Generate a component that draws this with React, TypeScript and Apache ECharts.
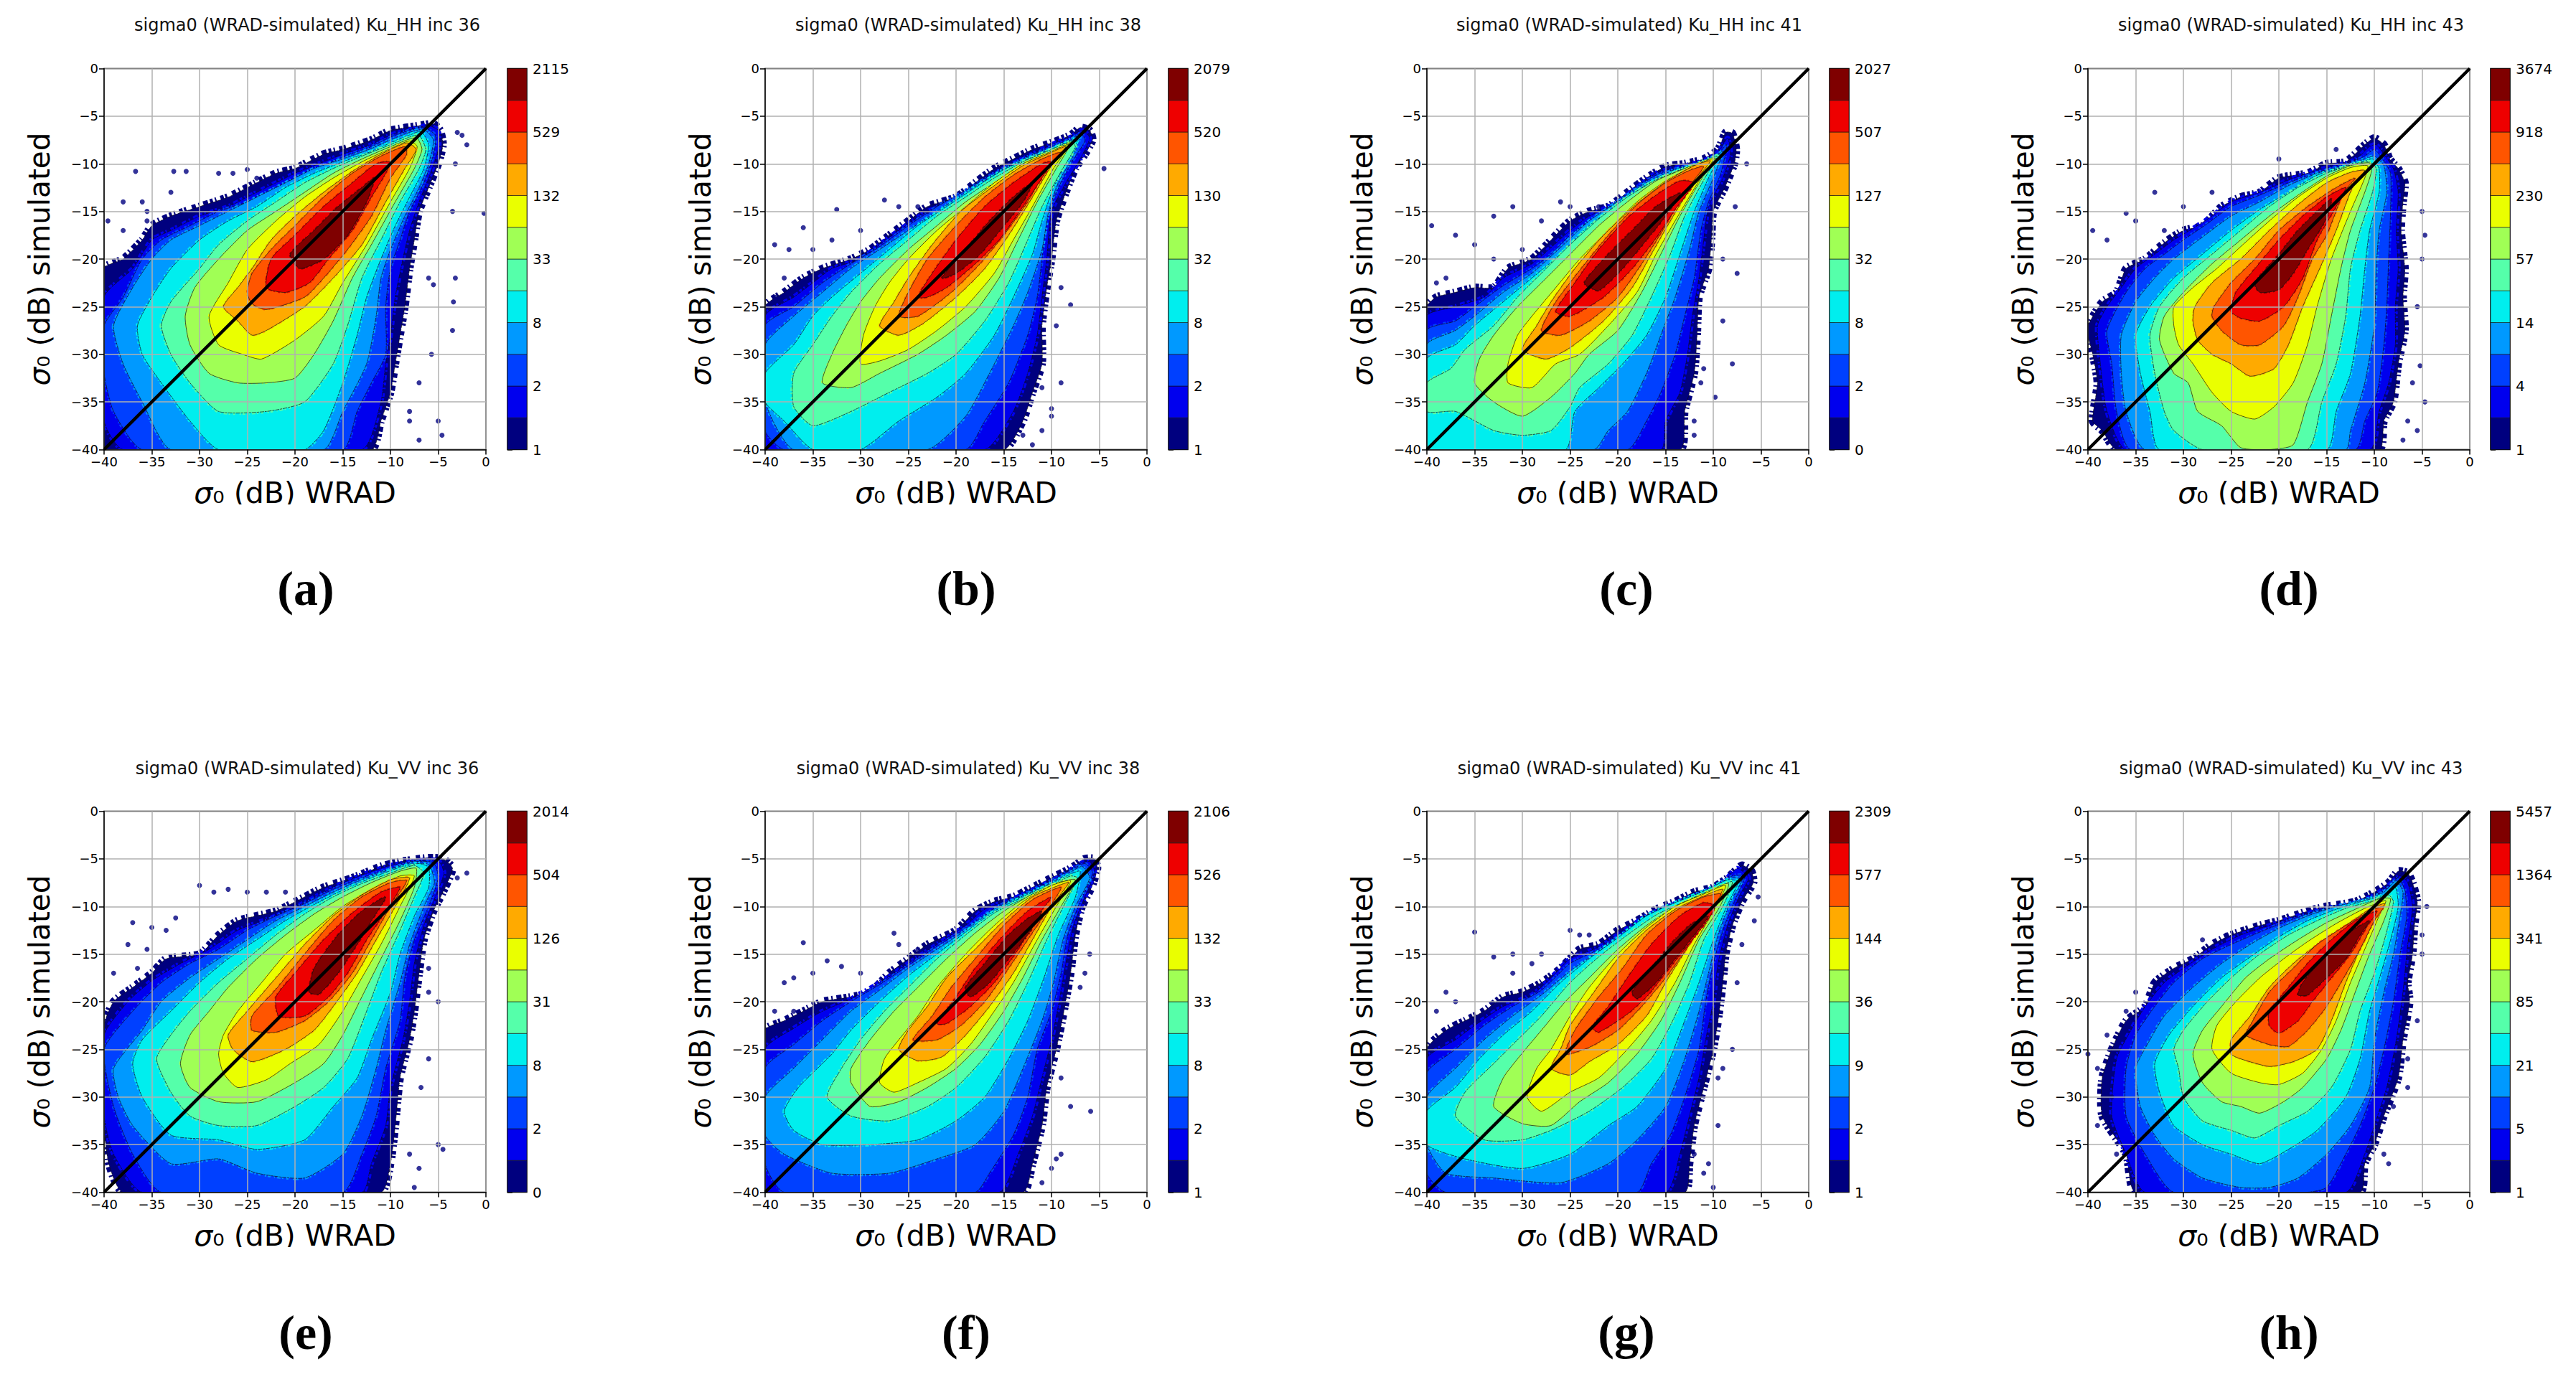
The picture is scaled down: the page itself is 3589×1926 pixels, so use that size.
import React, { useEffect, useRef } from "react";
import * as echarts from "echarts";

// Density contour outlines: each row is one band, [x,y, x,y, ...] in dB with the minus sign dropped.
const bandsA: number[][] = [
  [40,21,38,20,36,18,35,16.5,33,15.5,30,14.5,27,13.5,25,12.5,22,11,20,10.5,17,9,15,8.5,12,7.5,10,6.5,7,6,5.5,5.8,4.8,6.5,4.5,8,5,10,6,12.5,7,15,7.5,18,8,21,8.5,25,9,28,9.5,31,10,34,11,37,12,40,40,40],
  [40,24,37,21,35,18,33,17,30,15.5,27,14.5,25,13.5,22,12,20,11,17,9.8,15,9,12,8,10,7,7.5,6.3,6,6,5,6.5,5,8.5,5.8,11,7,14,8,17,8.7,20,9.5,24,10,28,10.5,31,11,35,13,40,38,40,40,37],
  [40,27,38,24,36,20,34,18,31,16.5,28,15,25,14,22,12.5,20,11.5,17,10.2,15,9.3,12,8.2,10,7.2,8,6.5,6.5,6.2,5.3,7,5.5,9,6.5,12,8,15,9,18,10,21,10.5,25,10.5,30,12,33,13.5,36,15,40,36,40,39,36,40,32],
  [39,27,37,23,35,20,33,18,30,16.5,27,15,24,13.5,21,12,18,10.5,15,9.5,12,8.4,10,7.5,8,6.7,6.5,6.4,5.5,7.5,6,10,7,12.5,8.5,15.5,10,19,11,22,11.5,26,12.5,31,15,36,17,40,33,40,36,35,38,31],
  [36.5,27,35,24,33,21,30,18,27,16,24,14.5,21,12.5,18,11,15,9.8,12,8.7,10,7.8,8,7,6.8,6.6,6,8,6.5,10.5,8,13.5,9.5,16.5,11,20,12.5,24,13.5,28,15,33,17,38,19,40,28,40,31,37,34,33,36,30],
  [34,27,33,24.5,30,21,28,18.5,25,16,22,14,19,12,16,10.5,13,9.2,10,8,8,7.2,7,7,6.3,8.5,7,10.5,9,14,11,18,13,22,14.5,27,16,31,19,35,23,36,28,36,31,33,33,30],
  [31.5,26,30.5,23,28,20,25,17,22,15,19,13,16,11,13,9.5,10,8.2,8,7.4,7.2,7.3,6.7,8.5,7.5,10.5,9.5,14,12,18.5,14,22,16,26.5,18,30,20,32.5,23,33,26,33,29,32,31,29],
  [29,26,27,22.5,25,19,22,16,19,13.5,16,11.5,13,9.8,10,8.4,8,7.6,7.2,8.2,8,10.5,10,14,12.5,18.5,15,22.5,17,26,20,28.5,23.5,30.5,25.5,30,28,29],
  [27.5,25,26,23,24.5,21,22.5,18,20,15.5,17,13,14,10.8,11,9,8.3,7.8,7.3,8.5,8.5,10.5,10.5,14,13,18.5,16,22,19,25,23,27.5,24.5,28,26,26.5],
  [25,23.5,24.5,21.5,22.5,19,20,16.5,17,13.5,14,11,11,9.2,8.5,8.2,8.3,9,10,11.5,12,15.5,14.5,19,17,22,19,24,23,25.3,24.5,24.7],
  [23,23,22.5,20,20,17.5,17,14.5,14,12,11.5,10,10,9.8,10.5,11,12,13.5,14,17,16.5,20,18.5,22.5,21,23.5],
  [20.5,19.5,18,17,15.5,14.5,13,12.5,11.7,11.5,12.5,14,14.5,17.5,17,20,19.5,21],
];
const bandsB: number[][] = [
  [40,25,38,23.5,36,22,34,21,31,20,29,19,27,17.5,25,16,23,14.5,20,13.5,18,12,16,10.5,14,9.5,12,8.5,10,7.8,8,7,7,6.2,6,6.5,5.7,7.5,6.5,9,7.5,10.5,8.5,13,9.5,16,10,20,10.5,23,11,27,11,31,12,34,13,37,15,40,40,40],
  [40,26,37,24,35,22.5,33,21,30,20,28,18.5,26,17,23,15,20,14,18,12.5,15,10.5,12,9,10,8,8,7.2,6.8,6.5,6,7.3,7,9.5,8.5,12,10,15,10.5,20,11,24,11.5,28,12.5,32,14,36,17,40,40,40],
  [40,27,37,25,34,22.5,31,20.5,28,18.7,25,16.5,22,14.5,19,12.8,16,11,13,9.5,10,8.2,8,7.4,6.9,6.8,6.5,7.6,8,10,9.5,13,10.5,16,11,20,11.5,24,12.5,28,14.5,33,17,37,19,40,38,40,40,38],
  [40,29,37,26,34,23.5,31,21,28,19,25,17,22,15,19,13,16,11.2,13,9.6,10,8.4,8,7.5,7,7,7.8,9.3,9.3,12,10.3,15,11,19,12.5,23.5,14,27,16.5,32,19,36.5,23,40,37,40,40,35],
  [40,32,37,29,35,26,33,24,30,21.5,27,19,24,16.5,21,14.5,18,12.5,15,10.6,12,9.3,10,8.5,8,7.6,7.2,7.3,8,9,9.8,12.5,11,16,12,19.5,14,24,16,28,19,32,22,34.5,26,37,30,40,35,40,38,37,40,35],
  [37,32,35,29,33,26,31,23.5,28,20.5,25,18,22,15.5,19,13.5,16,11.5,13,9.8,10,8.5,8,7.7,7.5,8.2,9,10.8,11,14.5,12.5,18,14.5,22.5,17,26.5,20,30,23,32,27,34,31,36,35,37.5,37,35.5],
  [34,33,33,30,31.5,27,30,24.5,28,22,25,19,22,16.5,19,14,16,12,13,10,10,8.7,8,7.8,9.5,10.5,11.5,14,13.5,18,15.5,22,18,25.5,21,28,24,30,28,32,31,33.5],
  [30,31,29.7,28,28.5,25,27,22.5,25,20,22,17,19,14.5,16,12,13,10,10,8.7,8.2,8,9.8,10.5,12,14.5,14,18,16,21.5,19,25,22,27.5,25,29.5,28,30.7],
  [28,27,26.5,24.5,25,22,22.5,18.5,19.5,15,16,12.3,13,10.2,10,8.8,8.5,8.2,10,10.2,12.3,14,14.5,17.5,17,21,20,24,23.5,26.8,26,28],
  [26,26,25,23.5,23,20,20,16.5,17,13.5,14,11.2,11,9.5,9,8.8,10.5,10.5,12.5,14,15,17.5,17.5,20.5,20.5,23.5,24,26],
  [24,24,22.5,21.5,20,18,17,14.5,14,12,11,10,10,9.8,11,11.5,13,14.5,15.5,18,18,20.5,21,23,23,24],
  [21.5,22,19,19,16.5,16,14,13.5,12,12,13,14,15,16.5,17.5,19.5,20,21.5],
];
const bandsC: number[][] = [
  [40,25,39,24,37,23.5,35,23,33,23,31.5,21,29,20,27,18,25,16,23,15,21,14.5,19,13,17,11.5,15,10.3,13,10,11,9.5,9.5,8.5,8.7,6.7,8,6.8,7.6,8.5,7.8,10,8.8,12.5,10,15,10.2,18,10.5,21,11.5,24,11.7,28,12,32,13,36,13.5,40,40,40],
  [40,26,37,25,34,24,32,22,29,20.5,27,18.8,25,17,23,15.5,20,14,18,12.5,16,11,13,10.2,11,9.7,9.5,8.8,8.5,7.3,8.2,9,9,11.5,10.5,14.5,11,18,11.5,22,12.2,26,12.7,30,13.5,34,15,37,15.5,40,40,40],
  [40,27.5,37,26.5,35,25,32,22.8,29,21,27,19.5,25,17.5,22,15.3,19,13.2,16,11.2,13,10.3,11,9.8,9.5,9,8.6,8,9.2,11,10.5,14,11.3,17,12,22,13,26,14,30,15.5,34,17,37,19,40,40,40],
  [40,29,37,27.5,35,26,32,23.5,29,21.5,26,18.8,23,16,20,14,17,12,14,10.6,11.5,10,9.8,9.2,9,8.7,10,11.5,11.5,15,12.5,19,14,24,15.5,28,17,32,19,36,21,38,22.5,40,40,40],
  [40,30.5,37,29,35,27,32,24.5,29,22,26,19.5,23,16.5,20,14.3,17,12.2,14,10.8,11.5,10.1,10,9.4,9.3,9,10.5,11.5,12,15,13.5,19.5,15,24,17,28,19.5,31,22,33.5,24.5,36,25.5,40,40,40],
  [40,33,37.5,31.5,36,29.5,33,27,30.5,24,28,21.5,25,18.5,22,15.8,19,13.5,16,11.7,13,10.5,10.5,9.5,9.6,9.2,11,11.7,13,15.5,14.5,19.5,16.5,24,18.5,28,21,31,24,33.5,25,35.5,27,38,30,38.5,33,38,37,36,40,36],
  [35,33,34.5,30.5,33,28,30.5,25,28,22.5,25,19.5,22,16.5,19,14,16,11.8,13,10.5,10.5,9.6,9.8,9.4,11.3,11.7,13.5,15.5,15.5,19.5,17.5,23.5,20,27.5,23,30,24.5,32,27,34.5,30,36.5,33,35],
  [31.5,33,31.5,31,30.5,28,29,26,26.5,23,24,20,21,17,18,14,15,11.8,12,10.2,10,9.5,11.5,11.8,14,16,16,19.5,18,23.5,21,27,24,30,26.5,31,29,33.5],
  [30,29.5,28.5,27,27,24.5,24.5,21,21.5,17.5,18,14.2,15,11.9,12,10.2,10.3,9.7,12,11.9,14.5,16,16.5,19.5,18.5,23,21.5,26.5,25,29.3,27.5,30.5],
  [28,27.5,26.5,24.5,24,21.2,21,17.5,18,14.3,15,12,12.5,10.7,11,10.3,13,13,15,16.5,17.5,20.5,20,24,23,26.5,26,28],
  [26.5,25.5,24.5,22.5,22,19,19,15.7,16,13.3,13.5,11.8,12,12,14,14.8,16,17.8,18.5,21,21.5,24,25,26],
  [23.5,22.5,21,19.5,18.5,17,16,14.5,13.5,13.1,15,15.5,17,18,19.5,21,22,23.3],
];
const bandsD: number[][] = [
  [40,27,38.5,24.5,37,23.5,36,21,34,20,32,18.3,30,17,28,16.5,26,14.5,24,13.5,22,13,20,11.5,17,11,15,10,13,9.8,11,8,10,7.3,9,8,8.4,9.5,7.5,10.5,6.8,12,7,14,7.2,17,6.8,21,7,24,6.8,27.5,7.5,31,8,35,9,37,9.5,40,37,40,38.5,38,39.5,37,39,33,39.5,30,40,28],
  [39,27,38,25,36.5,23,35,21,33,19.5,31,18,29,16.8,27,15.5,25,14,22,13,19,11.7,16,10.7,14,10.2,12,9.6,10.5,8.2,9.8,8,9,9,8,10.5,7.5,13,7.7,17,7.5,21,7.8,25,7.8,29,8.5,33,9.5,36,10.5,40,36,40,38,36,38.7,31],
  [38,27.5,36,23.5,34,21,32,19.5,30,18,27.5,16.3,25,14.5,22,13.3,19,12,16,10.9,13,10.1,11,9.2,10,8.5,9,9.7,8.3,11,8.3,15,8.5,20,8.7,25,9,29,9.7,34,11,37,12,40,35.5,40,37,36,37.5,31],
  [36.5,28,35,24.5,33,22,31,20,28,17.7,25,15.5,22,14,19,12.3,16,11,13,10.2,11,9.5,10,9.2,9,10.2,8.7,13,9.5,17,9.8,21,10,27,11,33,12.5,38,13,40,34,40,36,36,36.5,32],
  [35,28,33.5,25,31,22,28,19.5,25,17,22,14.8,19,13,16,11.2,13,10.3,11,9.7,10.2,9.5,9.5,10.5,9.5,13,10.5,17,11,21,11.5,26,12.5,32,14,36,15,40,32.5,40,33.5,36,34.5,32],
  [33.5,28,32.5,25,30,22,27,19.5,24,17,21,14.5,18,12.5,15,11,12,10,10.5,9.8,9.8,10.5,10.2,13,11.5,17,12.5,21,13,26,14,31,15.5,35,17,40,28,40,31,38,32,36,33,32],
  [32.5,28.5,32,26,30,23.5,27,20.5,24,18,21,15.5,18,13.3,15,11.3,12.5,10.2,10.5,9.9,10.3,10.8,11,13,12.5,17,13.5,21,14.5,26,15.5,31,17,35,18.5,39.5,21,40,24,39.8,26,37.5,28.5,36,29.5,33,31,32],
  [31,27,31,25,29,23,26.5,21,24,18.7,21,16,18,13.5,15,11.5,12.5,10.4,10.7,10.2,11,11.5,12.5,15,14.5,20,16,25,17,29,18.5,33,20.5,35.5,22.5,36.8,25,36,27,34,29,31,30.5,29],
  [29,26.5,28.8,25,27,22.5,24,20,21,17,18,14.3,15,12,12.5,10.9,11,10.7,12.3,12.5,14,17,15.5,20.5,17.5,25,19,29,20.5,31.5,23,32.3,25,31,27,30,28.5,28.5],
  [27,26,26.8,25,25,22.5,22.5,20,20,17,17,14.5,14,12.5,12,11.5,13.2,13,15,17.5,16.5,20,18,24,19.5,27,22,29,24,29,26,27.5],
  [25,25.5,24.5,23.5,22.5,21,20,18,17.5,15.5,15,13.5,13,12.5,14,14.5,16,18,17.5,22,19.5,25,22,26.5,24,26.2],
  [22.5,22.5,20,19.5,18,17,16,15,14.5,13.7,15,15.7,17,19,18.5,21.5,20,23.2,22,23.5],
];
const bandsE: number[][] = [
  [40,22.5,39,20,37,18.5,35,17,33.5,15.5,30,15,28,13,26,11.5,22,10.5,19,9,17,8,14,7,11,5.8,9,5.3,6,4.9,4.5,5,3.5,6,4.5,8.5,5.5,10.5,6.5,13.5,7,17,7.5,21,8,24,9,28,9.5,33,10,37,11,40,38,40,39.5,37,40,33],
  [40,23.5,37.5,20,35,17.8,32,16,29,14.5,26,12.5,22,11,19,9.6,16,8,13,6.7,10,5.7,7,5.2,5,5.2,4.4,6.5,5.3,9,6.5,12,7.5,16,8,20,8.7,24,10,29,10.5,33,12,37,13,40,36,40,39,36,40,32],
  [40,25,37,21,34,18,31,16,28,14.5,25,12.5,22,11,19,9.7,16,8.2,13,7,10,6,7.5,5.3,5.5,5.4,5,7,6,10,7.5,13.5,8.5,17.5,9,22,10.5,27,11.5,32,13,36,15,40,34,40,37,36,39,31],
  [39,27,36,23,34,20,31,17.5,28,15.5,25,13.5,22,11.5,19,10,16,8.5,13,7.2,10,6.1,8,5.5,6,5.6,5.4,7.5,6.5,10,8,14,9,18,10.5,23,11.5,27,13,32,15,36,19,38.5,24,38,28,36.5,33,37,37,33,38.5,30],
  [37,26.5,36,24,33,21,30,18,27,15.5,24,13.5,21,11.5,18,9.8,15,8.3,12,7,9,5.9,7,5.5,6,5.9,6,8,7.5,11,9,15,10,19,12,24,13.5,28,16,31,19,34.5,24,35.5,28,34.5,33,34,36,30],
  [34.5,26,33,23.5,31,21,28,18,25,15.5,22,13,19,10.8,16,9,13,7.6,10,6.5,7.5,5.7,6.5,6.5,7.5,9,9,12.5,11,17,12.5,21,14.5,26,17,29,20,31,24,33,28,33,31,32,33,29.5],
  [32,26.5,31,23.5,29,21,27,18.5,24,15.5,21,13,18,10.8,15,9,12,7.5,9,6.3,7.3,6,7.5,8,9,11.5,11,15.5,13,19.5,15,23.5,17,26.5,20,28.5,24,30.5,28,30.5,31,29],
  [28,25.5,27.5,23.5,26,21,23.5,18,21,15,18,12.5,15,10,12,8.2,9,6.8,7.5,6.8,9,10,11,14,13,17.5,15,21,17.5,24.5,20.5,26.5,23,28.2,26,29,27.5,27.5],
  [27,23.5,25,21,22,17.5,19,14,16,11,13,8.8,10,7.2,8,7,9.5,10,11.5,13.5,13.5,17,16,20.5,18,23,21,25,24.5,26.3,26.5,25],
  [24.5,23,24.5,21.5,22,18.7,19,15,16,11.5,13,9,10,7.5,8.3,7.3,10,10,12,13.5,14,17,16.5,20,19,22,22,23.2],
  [21.7,21.5,22,19.5,20,17,17,13.5,14,10.7,11,8.5,9,8,10.5,10.5,12.5,13.5,14.5,17,16.5,19.5,19,21.5],
  [18.5,19,18,16.5,15.5,13,13,10.5,10.5,9,12,11.5,13.5,14,15.5,17,17.5,19.2],
];
const bandsF: number[][] = [
  [40,23,38,22,36,21,34,20,31,19.5,29,19,27,17,25,15.5,23,14,20,12.5,18,10.5,16,9.5,14,9,12,8,10,7,8,6,6.5,5,5.5,5,5.2,6,5.8,8,6.8,10,7.5,13,8,17,8.7,21,9.5,25,10.5,29,11,33,12,37,13,40,40,40],
  [40,25,37,22.8,34,21,31,19.7,28,18,25,16,22,14,19,12,17,10.3,14,9.2,11,7.8,9,6.8,7,5.5,6,5.3,5.5,6.3,6.5,9,7.7,12,8.5,16,9.2,20,10,24,11,28,12,32,13.5,36,15.5,40,40,40],
  [40,27,37,24.5,34,22,31,20,28,18.2,25,16.2,22,14.2,19,12.3,16,10.2,13,8.8,10,7.3,8,6.2,6.5,5.5,5.7,6.5,7,9.5,8.3,13,9,17,10,21,11.5,25,12.5,30,14,34,16.5,38,18,40,38,40,40,37],
  [40,30,37,27,34,24,31,21,28,18.8,25,16.5,22,14.5,19,12.5,16,10.3,13,8.9,10,7.5,8,6.4,6.8,5.8,6,7,7.5,10,8.8,13.5,9.8,18,11,22,13,27,15,31.5,18,35,22,36.5,27,38,33,38,38,36,40,34],
  [38,31.5,36.5,29,33,25.5,31,23,28,20,25,17.3,22,15,19,12.7,16,10.5,13,9,10,7.6,8,6.6,7,6.3,7.5,9,9.3,13,10.8,17.5,12.5,22,14.5,26,17,30,20,32.5,24,34.5,29,35,34,35,37,33.5],
  [33.5,30,32,27,30,24,27.5,21,25,18.5,22,15.5,19,13,16,10.7,13,9.2,10,7.8,8,6.8,7.3,7,8.5,9.5,10.5,13.5,12.5,18,14.5,22,17,25.8,20,29,23,31,27,32.5,31,32],
  [31,28.5,31,27,29,24,26.5,21,24,18.5,21,15.5,18,12.8,15,10.5,12,8.7,9,7.4,7.5,7.2,9,10,11,13.5,13,17.5,15,21,17.5,24.5,20,27,23,29,26,30.5,29,31],
  [28,28.5,27.5,26,26,24,24,21.5,22,18.5,19,15,16,12,13,9.5,10,7.8,8,7.3,9.5,10,11.5,13.5,14,18,16,21,18.5,24.5,21,27,24,28.5,26.5,29.5],
  [26,25,25,23,23,20.5,21,17.5,18,14.5,15,11.5,12,9,9.5,7.9,8.2,7.5,10,10,12,13.5,14,17,16.5,20.5,19,23.5,21.5,25.8,24,26.2],
  [24.5,24,22.5,21.5,20.5,18.5,18,15.5,15,12,12,9.3,9,8,10.5,10.5,12.5,13.5,14.5,16.5,17,20,19.5,22.5,22,24],
  [22,22.3,20,19.5,18,16.5,15,13,12.5,10.5,10,9,11.5,11,13.5,14.5,16,18,18.5,20.5,21,22.3],
  [19,18.5,17,16,14.5,13,12.5,11.3,11,10.5,12.5,13,14.5,15.5,16.5,18,18.5,19.5],
];
const bandsG: number[][] = [
  [40,25,38,23,36,22,34,21,32,19.5,30,19,28,18,26,16.5,24,14.5,22,14,20,12.5,18,11.5,16,10.3,14,9.5,12,8.5,10,8,8.5,7,7,5.7,6,6.3,5.8,7.5,7,9.5,8,12,8.7,15,9,18,9.5,22,10,25,11,29,12,33,12.5,37,13,40,40,40],
  [40,26,37,24,35,22.5,32,20.5,29,19.3,27,17.5,25,15.5,22,14.3,20,13,17,11,14,9.7,11,8.5,9,7.5,7.5,6,6.3,7,7.3,9,8.5,12,9.5,16,10,20,10.8,24,11.5,28,12.5,32,13.5,36,15,40,40,40],
  [40,27.5,37,25,34,22.5,31,20.5,28,18.8,25,16,22,14.5,19,12.5,16,10.5,13,9.2,10,8,8,6.8,6.7,6.8,7.8,9.5,9,12.5,10,16,10.8,20,11.5,25,13,30,14.5,34,16.5,37,18,40,38,40,40,38],
  [40,30,37,27,34,24,31,21.5,28,19.3,25,16.8,22,14.7,19,12.7,16,10.7,13,9.3,10,8.1,8,7,7,7.2,8.2,9.5,9.5,13,10.5,17,11.5,21,13,26,15,31,18,34.5,21,37,26,39,33,38.5,38,38,40,35],
  [40,31.5,37,29,34.5,26,32,23.5,29,21,26,18,23,15.5,20,13.3,17,11,14,9.6,11,8.4,8.5,7.2,7.4,7.4,8.6,10,10,13.5,11.5,18,13,22,15,27,18,31,21,33,25,36,30,37.5,36,36.5,40,35],
  [37,32,36,29.5,33,26.5,30.5,24,28,21.5,25,18,22,15.3,19,13,16,10.9,13,9.5,10,8.2,8,7.4,9,10,11,13.5,12.5,18,14.5,22.5,16.5,26,19.5,29,23,31.5,27,33.5,30,34.5,34,34.5],
  [33,31,32,28,30.5,26,28,23,25.5,20,23,17.5,20,14.5,17,12,14,10,11,8.6,8.4,7.6,9.3,10,11.5,13.5,13.5,18,15.5,22,18,25.5,21,28.5,24,30.5,27,33,30,32.8],
  [29.5,30,28.5,27,27,25,25,21.5,23,18.5,20,15,17,12.2,14,10,11,8.7,8.7,7.8,10,10.5,12,14,14,18,16.5,22,19,25,22,28,25,29.5,28,31.5],
  [27,27,26,25,25,22.5,22.5,19,20,15.5,17,12.5,14,10.3,11,8.9,9,8.2,10.5,10.5,12.5,14,15,18,17,21.5,20,24.5,23,26.3,25,27.7],
  [25.5,25.5,24.5,23,22,19.5,19.5,16.5,17,13,14,10.5,11,9,9.2,8.7,10.5,10.7,12.5,14,15,17.5,17.5,20.5,20,23,23,24.8],
  [22.7,22.7,21,20.5,19,17.5,16.5,14,13.5,11,11,9.6,9.8,10,11,12,13,14.5,15,17,17,19.5,19,21.3,22,23.2],
  [18.5,19,16.5,16.5,14.5,14,12.5,12,10.5,11,12,13,14,15.5,16,18,18,19.7],
];
const bandsH: number[][] = [
  [37.5,25,36,22,34,20.5,33,18,31,16.5,29,15.5,27,14,25,13,22,12,20,11.5,17,10.5,15,10,12,9.5,10,8.5,8.5,7.5,7.5,6.3,6.5,6.5,6,7.5,5.5,9.5,5.8,12,6,15,6.5,18,6.3,20,7,24,7.5,28,9,32,10,35,11,37,11.5,40,35,40,36,36,38.5,32,38.5,28],
  [37,26,35.5,23,34,20.5,32,18,30,16.5,27,14.5,24,13,21,12,18,11,15,10.2,12,9.7,10,8.8,8.5,7.8,7.3,6.8,6.5,7.5,6,10,6.5,14,7,19,7.7,24,8.7,29,10,33,11,36,13,40,34,40,36,36,37.5,32],
  [36,27,35,23.5,33,20.5,31,18,28,15.5,25,14,22,12.7,19,11.5,16,10.5,13,9.8,10.5,9.2,8.5,8,7.5,7,6.8,8.3,6.6,11,7.3,15,8,20,9,25,10,29,11.5,33,13,36,15,39.5,17,40,31,40,34,36,36,32],
  [35,27,33.5,24,32,21.5,29,18.5,26,16,23,14,20,12.3,17,11,14,10,11,9.3,9,8.5,7.7,7.3,7,8.5,7.3,11,8,15,9,19,10,24,10.5,29,12.5,33,15,36,18,38.5,21,39.5,24,39.5,28,38.5,31,36.5,33,34,34.5,31],
  [33,26.5,31.5,23.5,29,20.5,26,17.5,23,15.3,20,13.2,17,11.5,14,10.3,11,9.4,9,8.8,7.8,8,7.5,10,8.3,13.5,9.3,17,10.5,21,11.5,26,13,30,16,33.5,19,35.5,22,37,25,36,28,35,31,33,32.5,29.5],
  [31,25,30,23,27.5,20,25,17.5,22,15,19,13,16,11.5,13,10.2,10.5,9.5,8.5,8.8,8,9.5,8.8,13,10,17,11.5,21,12.5,25,14.5,29,17,31.5,20,33,22.5,34.3,25,33.5,28,32.5,30,30,30.5,27],
  [29,25.5,28,23,26,20.5,23.5,17.5,21,15.5,18,13.5,15,11.7,12,10.3,9.5,9.2,8.3,9.2,9,11.5,10.5,15,12,19,13.5,23,15,26,17.5,29,19.5,30.5,22,31.7,24,31,26,30.5,28,28.5],
  [27,25,26.5,22.5,24.5,20,22,17.5,19.5,15.5,17,13.7,14,11.8,11,10.2,8.8,9.4,9.5,11,11,14.5,12.5,18,14,22,15.5,25,17.5,27.5,20,28.7,22,28.5,25,27.5],
  [25,25.5,25,24,23,21.5,21,18.5,18.5,16,16,14,13,12,10.5,10.3,8.9,9.7,10,11.5,11.5,14.5,13,18,14.5,22,16,25,18.5,26.3,21,26.8,24,26],
  [23.5,23.5,23,22.5,21,19,18.5,16.5,16,14,13,12,10.5,10.5,9,10,10,11.5,11.5,14.5,13.5,18,15,20.5,17,23,19,24.7,21,24.5],
  [21,22.5,21,21,19,18.5,17,16,14.5,13.5,12,11.5,9.7,10.5,10.7,12,12.5,15,14.5,17.5,16.5,20,18,22,20,23.3],
  [18,19.3,17.5,18,15,15,13,13,10.5,11.5,11.5,13,13,15.5,15,17.5,17,19.3],
];

// Isolated low-count cells outside the main cloud, [x,y] with the minus sign dropped.
const specksA: number[][] = [[36.7,10.8],[32.7,10.8],[31.4,10.8],[38,14],[36,14],[35.5,15],[38,17],[39.6,16],[35.5,16],[33,13],[28,11],[26.5,11],[25,10.6],[24,11.5],[3,6.7],[2.5,7],[2,8],[3.2,10],[3.5,15],[3.2,22],[3.4,24.5],[5.5,22.7],[0.2,15.2],[3.5,27.5],[5.7,30],[6,22],[7,33],[8,36],[5,37],[4.6,38.5],[8,37],[7,39]];
const specksB: number[][] = [[39,18.5],[37.5,19],[36,16.7],[32.5,14.8],[27.5,13.8],[26,14.5],[24,14.5],[23,15],[35,19],[33,18],[30,17],[4.5,10.5],[9,23],[8,24.8],[9,33],[10,35.7],[10,36.5],[11,38],[12,39.5],[9.5,27],[11,33.5],[13,38.5],[39,24],[38,22]];
const specksC: number[][] = [[39.5,16.5],[37,17.5],[35,18.5],[33,15.5],[31,14.5],[28,16],[26,14],[25,14.5],[22,14.5],[33,20],[30,19],[7.5,21.5],[8,31],[9.8,34.5],[11,31.5],[11.3,33],[12,37],[12,38.5],[6.5,10],[9,26.5],[7.7,14.5],[9,20],[39,22.5],[38,22]];
const specksD: number[][] = [[33,13],[30,14.5],[32,17],[36,15.2],[39.5,17],[38,18],[35,16],[20,9.5],[14,8.5],[27,13],[5,15],[4.7,17.5],[5,20],[5.5,25],[5.2,31.2],[6,33],[4.7,35],[5.5,38],[6.5,37],[7,39]];
const specksE: number[][] = [[30,7.8],[28.5,8.5],[27,8.2],[25,8.5],[23,8.5],[21,8.5],[37,11.7],[35,12.2],[32.5,11.2],[33.5,12.5],[37.5,14],[35.5,14.5],[39,17],[36.5,16.5],[2,6.5],[3,7],[6,16.5],[6,19],[5,20],[6,26],[6.8,29],[5,35],[4.5,35.5],[8,36],[7,37.5],[7.5,39.5]];
const specksF: number[][] = [[36,13.8],[33.5,15.7],[32,16.3],[26.5,12.8],[26,14],[24,14.5],[38,18],[37,17.5],[35,17],[30,17],[39,21],[37,21],[6,15],[6.5,17],[7,18.5],[8,31],[5.9,31.5],[9,28],[9,36],[10,37.5],[9.5,36.5],[13,39],[11,39],[11.5,33]];
const specksG: number[][] = [[35,12.7],[33,15.3],[31,15],[25,12.5],[24,13],[23,13],[28,15],[29,16],[31,17],[38,19],[39,21],[37,20],[5.3,9],[5.7,11.5],[7.5,18],[7,14],[8,25],[9,27],[9.5,33],[10.5,37],[11,38],[10,39.5],[9.5,28],[12,36]];
const specksH: number[][] = [[40,25.5],[39,27],[37.5,30],[38,23.5],[36,21],[35,19],[33,18],[28,13.5],[25.5,13],[4.5,10],[5,15],[5,13],[5.5,22],[6.5,26],[6.5,29],[8,31],[9,36],[8.5,37],[39,33],[37,36]];

const seriesTitles = [
  "sigma0 (WRAD-simulated) Ku_HH inc 36", "sigma0 (WRAD-simulated) Ku_HH inc 38",
  "sigma0 (WRAD-simulated) Ku_HH inc 41", "sigma0 (WRAD-simulated) Ku_HH inc 43",
  "sigma0 (WRAD-simulated) Ku_VV inc 36", "sigma0 (WRAD-simulated) Ku_VV inc 38",
  "sigma0 (WRAD-simulated) Ku_VV inc 41", "sigma0 (WRAD-simulated) Ku_VV inc 43",
];
const panelTags = ["(a)", "(b)", "(c)", "(d)", "(e)", "(f)", "(g)", "(h)"];
const colorbarTicks: string[][] = [
  ["1", "2", "8", "33", "132", "529", "2115"],
  ["1", "2", "8", "32", "130", "520", "2079"],
  ["0", "2", "8", "32", "127", "507", "2027"],
  ["1", "4", "14", "57", "230", "918", "3674"],
  ["0", "2", "8", "31", "126", "504", "2014"],
  ["1", "2", "8", "33", "132", "526", "2106"],
  ["1", "2", "9", "36", "144", "577", "2309"],
  ["1", "5", "21", "85", "341", "1364", "5457"],
];
const allBands = [bandsA, bandsB, bandsC, bandsD, bandsE, bandsF, bandsG, bandsH];
const allSpecks = [specksA, specksB, specksC, specksD, specksE, specksF, specksG, specksH];
const bandColors = ["#00007f", "#0000ee", "#0040ff", "#0099ff", "#00eeee", "#55ffaa", "#a0ff55", "#eaff00", "#ffaa00", "#ff5500", "#ee0000", "#7f0000"];

const plotLefts = [145, 1066, 1988, 2909, 145, 1066, 1988, 2909];
const plotTops = [95.5, 95.5, 95.5, 95.5, 1130.5, 1130.5, 1130.5, 1130.5];
const barLefts = [707, 1628, 2549, 3470];
const titleCenters = [423, 1344, 2265, 3187];
const tagCenters = [426, 1346, 2266, 3189];
const PLOT_W = 532;
const PLOT_H = 531;
const FONT = '"DejaVu Sans"';
const fmt = (v: number) => String(v).replace("-", "\u2212");
const ROUGH_OUTER = [4, 3, 2, 6, 5, 2, 3, 8, 6, 4, 2, 5, 7, 3];
const ROUGH_INNER = [3, 4, 2, 2, 5, 3, 1, 5, 4, 2, 2, 6];

function buildOption() {
  const grid: any[] = [], xAxis: any[] = [], yAxis: any[] = [], series: any[] = [], title: any[] = [], graphic: any[] = [];
  const nameRich = (size: number) => ({
    i: { fontFamily: FONT, fontStyle: "italic", fontSize: size, color: "#000" },
    r: { fontFamily: FONT, fontSize: size, color: "#000" },
  });
  for (let p = 0; p < 8; p++) {
    const col = p % 4;
    const left = plotLefts[p], top = plotTops[p];
    const barLeft = barLefts[col];
    const g = 2 * p;
    grid.push({ left, top, width: PLOT_W, height: PLOT_H, show: true, borderColor: "#000", borderWidth: 1.5, backgroundColor: "#fff" });
    grid.push({ left: barLeft, top, width: 27, height: PLOT_H, show: true, borderColor: "#000", borderWidth: 1.5 });
    const axisCommon = {
      min: -40, max: 0, interval: 5, type: "value", z: 3,
      axisLine: { show: true, onZero: false, lineStyle: { color: "#000", width: 1.5 } },
      axisTick: { show: true, length: 7, lineStyle: { color: "#000", width: 1.5 } },
      splitLine: { show: true, lineStyle: { color: "#b0b0b0", width: 1.5 } },
      axisLabel: { fontFamily: FONT, fontSize: 18, color: "#000", formatter: fmt, margin: 8, showMinLabel: true, showMaxLabel: true, hideOverlap: false },
    };
    xAxis.push({
      ...axisCommon, gridIndex: g, nameLocation: "middle", nameGap: 40,
      name: "{i|\u03c3}{r|\u2080 (dB) WRAD}", nameTextStyle: { rich: nameRich(41), fontSize: 41 },
    });
    yAxis.push({
      ...axisCommon, gridIndex: g, nameLocation: "middle", nameGap: 70,
      name: "{i|\u03c3}{r|\u2080 (dB) simulated}", nameTextStyle: { rich: nameRich(40.5), fontSize: 40.5 },
    });
    xAxis.push({ type: "value", gridIndex: g + 1, min: 0, max: 1, show: false });
    yAxis.push({
      type: "value", gridIndex: g + 1, min: 0, max: 12, interval: 2, position: "right",
      axisLine: { show: false }, splitLine: { show: false },
      axisTick: { show: true, length: 7, lineStyle: { color: "#000", width: 1.5 } },
      axisLabel: {
        fontFamily: FONT, fontSize: 20, color: "#000", margin: 8, showMinLabel: true, showMaxLabel: true,
        formatter: (v: number) => colorbarTicks[p][v / 2],
      },
    });

    const polys = allBands[p].map((flat) => {
      const pts: number[][] = [];
      for (let i = 0; i < flat.length; i += 2) pts.push([-flat[i], -flat[i + 1]]);
      return pts;
    });
    series.push({
      type: "custom", coordinateSystem: "cartesian2d", xAxisIndex: g, yAxisIndex: g, clip: true, z: 2, silent: true,
      encode: { x: 0, y: 1 },
      data: polys.map((_, i) => [-20, -20, i]),
      renderItem: (params: any, api: any) => {
        const i = params.dataIndex;
        const pts = polys[i].map((q) => api.coord(q));
        const rag = i === 0 ? 11 : i === 1 ? 7 : i < 6 ? 5 : 3;
        return {
          type: "group",
          children: [
            { type: "polygon", shape: { points: pts, smooth: 0.2 }, style: { fill: bandColors[i], stroke: bandColors[i], lineWidth: rag, lineDash: i < 2 ? ROUGH_OUTER : ROUGH_INNER } },
            { type: "polygon", shape: { points: pts, smooth: 0.2 }, style: { fill: "none", stroke: "rgba(15,15,15,0.7)", lineWidth: 1, lineDash: i < 6 ? [6, 1, 3, 1] : null } },
          ],
        };
      },
    });
    series.push({
      type: "scatter", xAxisIndex: g, yAxisIndex: g, symbol: "circle", symbolSize: 7, z: 2, silent: true,
      itemStyle: { color: "#00007f" },
      data: allSpecks[p].map((q) => [-q[0], -q[1]]),
    });
    series.push({
      type: "line", xAxisIndex: g, yAxisIndex: g, showSymbol: false, symbol: "none", silent: true, z: 6,
      lineStyle: { color: "#000", width: 4.5 },
      data: [[-40, -40], [0, 0]],
    });
    series.push({
      type: "custom", coordinateSystem: "cartesian2d", xAxisIndex: g + 1, yAxisIndex: g + 1, silent: true, z: 2,
      encode: { x: 0, y: 1 },
      data: bandColors.map((_, i) => [0.5, i + 0.5, i]),
      renderItem: (params: any, api: any) => {
        const i = params.dataIndex;
        const a = api.coord([0, i]);
        const b = api.coord([1, i + 1]);
        return {
          type: "rect",
          shape: { x: a[0], y: b[1], width: b[0] - a[0], height: a[1] - b[1] },
          style: { fill: bandColors[i], stroke: "rgba(15,15,15,0.6)", lineWidth: 1 },
        };
      },
    });
    title.push({
      text: seriesTitles[p], left: titleCenters[col], top: p < 4 ? 30 : 1065.5, textAlign: "center", textVerticalAlign: "middle",
      textStyle: { fontFamily: FONT, fontSize: 24, fontWeight: "normal", color: "#111" },
    });
    graphic.push({
      type: "text", z: 60,
      style: { text: panelTags[p], x: tagCenters[col], y: p < 4 ? 820 : 1857, font: 'bold 68px "Liberation Serif"', fill: "#000", textAlign: "center", textVerticalAlign: "middle" },
    });
  }
  graphic.push({ type: "rect", z: 50, shape: { x: 0, y: 703, width: 3589, height: 90 }, style: { fill: "#fff" } });
  graphic.push({ type: "rect", z: 50, shape: { x: 0, y: 1738, width: 3589, height: 90 }, style: { fill: "#fff" } });
  return { animation: false, backgroundColor: "#fff", title, grid, xAxis, yAxis, series, graphic };
}

export default function App() {
  const ref = useRef<HTMLDivElement>(null);
  useEffect(() => {
    document.body.style.margin = "0";
    const chart = echarts.init(ref.current!, undefined, { renderer: "svg" });
    chart.setOption(buildOption() as any);
    return () => chart.dispose();
  }, []);
  return <div ref={ref} style={{ width: 3589, height: 1926 }} />;
}
